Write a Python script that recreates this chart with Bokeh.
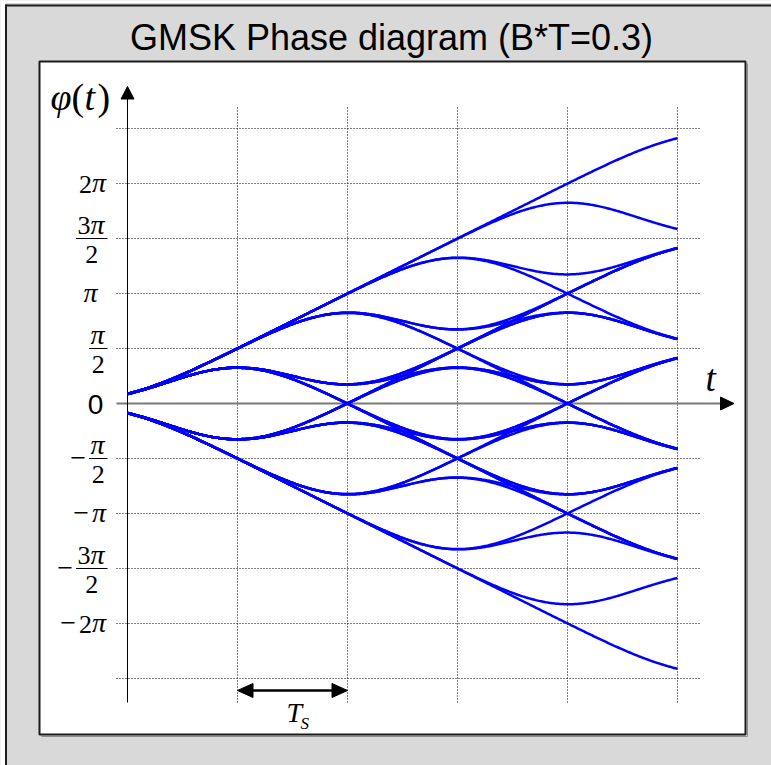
import math
from itertools import product

import numpy as np
from bokeh.plotting import figure
from bokeh.models import Range1d, InlineStyleSheet
from bokeh.core.properties import value
from bokeh.embed import file_html
from bokeh.resources import INLINE

# ---------------- chart data ----------------
title_text = "GMSK Phase diagram (B*T=0.3)"
bt_product = 0.3              # Gaussian filter bandwidth x symbol time
n_symbols = 5                 # symbols along the time axis (units of Ts)
symbol_levels = [-1, 1]       # NRZ levels of each bit
# phase ticks, in units of pi/2
phase_ticks = [4, 3, 2, 1, 0, -1, -2, -3, -4]
phase_tick_labels = ["2π", "3π/2", "π", "π/2", "0", "−π/2", "−π", "−3π/2", "−2π"]
grid_phase = [5, 4, 3, 2, 1, -1, -2, -3, -4, -5]
grid_time = [1, 2, 3, 4, 5]
period_span = [1, 2]          # interval marked as one symbol period Ts

# ---------------- canvas geometry (pixels) ----------------
W, H = 771, 765
X0, SX = 127.0, 110.0         # pixel of t=0, pixels per Ts
Y0, SY = 403.0, 55.0          # pixel of phase 0, pixels per pi/2
BASE_SHIFT = 0.32             # alphabetic baseline correction (em)


def dx(X):
    return (X - X0) / SX


def dy(Y):
    return (Y0 - Y) / SY


p = figure(width=W, height=H, output_backend="svg", toolbar_location=None,
           x_range=Range1d(dx(0), dx(W)), y_range=Range1d(dy(H), dy(0)),
           x_axis_type=None, y_axis_type=None, min_border=0,
           background_fill_color="#d9d9d9", border_fill_color="#d9d9d9",
           outline_line_color=None)
# keep the svg layer as a block so its container never scrolls
p.stylesheets = [InlineStyleSheet(
    css=":host { overflow: hidden; } svg { display: block; } div { overflow: hidden; }")]

# white page margin above and left of the gray panel, then its edge lines
p.quad(left=[dx(0), dx(0)], right=[dx(W), dx(5)], top=[dy(0), dy(0)],
       bottom=[dy(4), dy(H)], fill_color="white", line_color=None)
p.segment(x0=[dx(5)], x1=[dx(W)], y0=[dy(3.5)], y1=[dy(3.5)],
          line_color="#a8a8a8", line_width=1)
p.segment(x0=[dx(5)], x1=[dx(W)], y0=[dy(5)], y1=[dy(5)],
          line_color="#1e1e1e", line_width=2)
p.segment(x0=[dx(5.5)], x1=[dx(5.5)], y0=[dy(4)], y1=[dy(H)],
          line_color="#1e1e1e", line_width=2)

# white plotting box with a faint shadow
p.segment(x0=[dx(747), dx(41)], x1=[dx(747), dx(747)],
          y0=[dy(63), dy(736)], y1=[dy(736), dy(736)],
          line_color="#8c8c8c", line_width=1)
p.quad(left=[dx(39)], right=[dx(745)], top=[dy(61)], bottom=[dy(734)],
       fill_color="white", line_color="#1a1a1a", line_width=2)

# dotted grid
p.segment(x0=[dx(116)] * len(grid_phase), x1=[dx(699)] * len(grid_phase),
          y0=grid_phase, y1=grid_phase,
          line_color="black", line_width=1, line_dash="1 2")
p.segment(x0=grid_time, x1=grid_time,
          y0=[dy(702)] * len(grid_time), y1=[dy(107)] * len(grid_time),
          line_color="black", line_width=1, line_dash="1 2")

# axes with arrow heads
p.segment(x0=[dx(116)], x1=[dx(721)], y0=[0], y1=[0],
          line_color="#7a7a7a", line_width=2)
p.patch(x=[dx(720), dx(733.5), dx(720)], y=[dy(396.5), 0, dy(409.5)],
        fill_color="black", line_color="black", line_width=1)
p.segment(x0=[0], x1=[0], y0=[dy(702)], y1=[dy(97)],
          line_color="black", line_width=1)
p.patch(x=[dx(120.5), 0, dx(133.5)], y=[dy(98.5), dy(86), dy(98.5)],
        fill_color="black", line_color="black", line_width=1)

# ---------------- GMSK phase trajectories ----------------
sigma = math.sqrt(math.log(2.0)) / (2.0 * math.pi * bt_product)
erf = np.vectorize(math.erf)


def std_cdf(z):
    return 0.5 * (1.0 + erf(z / math.sqrt(2.0)))


def std_pdf(z):
    return np.exp(-0.5 * z * z) / math.sqrt(2.0 * math.pi)


def ramp(x):
    # integral of the Gaussian CDF
    return x * std_cdf(x / sigma) + sigma * std_pdf(x / sigma)


def phase_pulse(tau):
    # normalised phase response of one symbol (0 -> 1)
    return ramp(tau + 0.5) - ramp(tau - 0.5)


t = np.linspace(0.0, n_symbols, 501)
pulses = [phase_pulse(t - k - 0.5) for k in range(n_symbols)]
xs, ys = [], []
for bits in product(symbol_levels, repeat=n_symbols):
    phase = sum(a * q for a, q in zip(bits, pulses))   # units of pi/2
    xs.append(t)
    ys.append(phase)
p.multi_line(xs, ys, line_color="#0000ff", line_width=2.5, line_join="round")

# ---------------- text ----------------
SERIF = "Liberation Serif"
SANS = "Liberation Sans"


def put(X, Y, s, font=SERIF, size=24, style="normal", align="left"):
    # Y is the wanted baseline in pixels
    p.text(x=[dx(X)], y=[dy(Y - BASE_SHIFT * size)], text=[s],
           text_font=value(font), text_font_size=f"{size}px",
           text_font_style=style, text_align=align,
           text_baseline="alphabetic", text_color="black")


# title
put(391, 49, title_text, font=SANS, size=36, align="center")

# axis names
put(50, 109, "φ", size=38, style="italic")
put(71, 109, "(", size=38)
put(84, 109, "t", size=38, style="italic")
put(97, 109, ")", size=38)
put(705, 390, "t", size=37, style="italic")

# Ts marker
p.segment(x0=[dx(X0 + SX * period_span[0] + 12)],
          x1=[dx(X0 + SX * period_span[1] - 12)],
          y0=[dy(690)], y1=[dy(690)], line_color="black", line_width=2.5)
for end, sgn in ((period_span[0], 1), (period_span[1], -1)):
    base = dx(X0 + SX * end + sgn * 15.5)
    p.patch(x=[end, base, base], y=[dy(690), dy(683), dy(697)],
            fill_color="black", line_color="black", line_width=1)
put(286, 721, "T", size=28, style="italic")
put(300, 728, "S", size=17, style="italic")

# phase tick labels
F = 26                 # digit size
FP = 28                # pi size
FM = 28                # minus size
DIGIT_W = 0.5 * F
PI_W = 0.55 * FP
R = 107.0
for u, lab in zip(phase_ticks, phase_tick_labels):
    yc = Y0 - SY * u
    if lab == "0":
        put(95, yc + 10, "0", font=SANS, size=28, align="center")
        continue
    neg = lab.startswith("−")
    body = lab.lstrip("−")
    if "/" in body:
        num, den = body.split("/")
        digits = num.replace("π", "")
        num_w = DIGIT_W * len(digits) + PI_W
        bar_w = num_w + 3
        left = R - bar_w
        cx = R - bar_w / 2
        p.segment(x0=[dx(left)], x1=[dx(R)], y0=[dy(yc)], y1=[dy(yc)],
                  line_color="black", line_width=1.2)
        start = cx - num_w / 2
        if digits:
            put(start, yc - 5, digits, size=F)
        put(start + DIGIT_W * len(digits), yc - 5, "π", size=FP, style="italic")
        put(cx, yc + 24, den, size=F, align="center")
        if neg:
            put(left - 3, yc + 8, "−", size=FM, align="right")
    else:
        digits = body.replace("π", "")
        if digits or neg:
            split = R - PI_W
        else:
            split = 83.0
        put(split, yc + 8, "π", size=FP, style="italic")
        left = split
        if digits:
            put(split, yc + 9, digits, size=F, align="right")
            left = split - DIGIT_W * len(digits)
        if neg:
            put(left - 3, yc + 8, "−", size=FM, align="right")

open("out.html", "w").write(file_html(p, INLINE))
